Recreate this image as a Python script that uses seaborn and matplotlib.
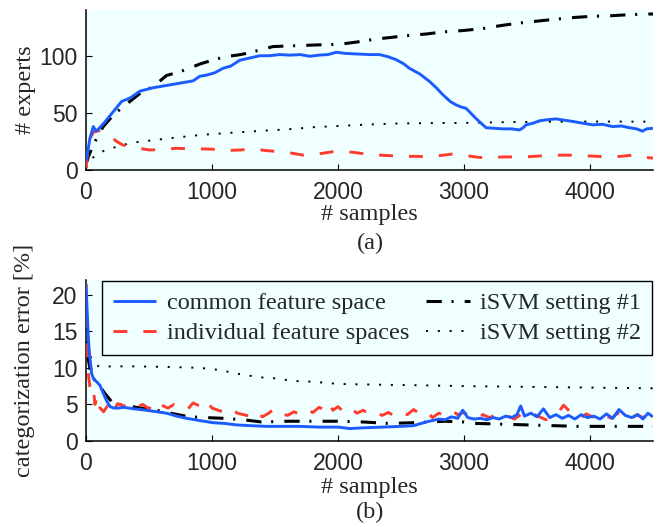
import matplotlib
matplotlib.use("Agg")
import matplotlib.pyplot as plt
import seaborn as sns
import pandas as pd

# ---------------- data: panel (a) number of experts ----------------
x_top_common = [0, 10, 30, 58, 80, 100, 150, 216, 283, 350, 428, 533, 640, 745, 850, 903, 956, 1020,
                1088, 1150, 1220, 1300, 1379, 1458, 1537, 1620, 1700, 1775, 1850, 1920, 1986, 2060,
                2150, 2250, 2330, 2400, 2462, 2520, 2567, 2650, 2726, 2780, 2831, 2890, 2937, 2980,
                3016, 3096, 3175, 3240, 3307, 3380, 3439, 3470, 3492, 3550, 3597, 3660, 3730, 3800,
                3862, 3940, 4020, 4100, 4178, 4250, 4311, 4370, 4416, 4450, 4500]
y_top_common = [8, 13, 27, 38, 34, 36, 42, 51, 60, 63, 69, 72, 74, 76, 78, 82, 83, 85,
                89, 91, 96, 98, 100, 100, 101, 100.5, 101, 99.5, 100.5, 101, 103, 102,
                101.5, 101, 101, 99, 96.5, 93, 89, 84, 77.5, 72, 66, 60, 57, 55,
                54, 45, 37, 36.5, 36, 36, 35, 37, 39.5, 41, 43, 44, 44.7, 43.5,
                42.5, 41, 39.5, 40, 38, 38.5, 37, 36, 34, 36, 36.5]

x_top_indiv = [0, 15, 32, 60, 85, 120, 164, 200, 243, 290, 349, 420, 507, 600, 719, 830, 956, 1040,
               1115, 1220, 1326, 1430, 1537, 1620, 1722, 1840, 1960, 2040, 2118, 2220, 2330, 2420,
               2514, 2600, 2700, 2800, 2911, 3020, 3122, 3210, 3307, 3410, 3518, 3640, 3756, 3850,
               3941, 4050, 4152, 4250, 4337, 4400, 4429, 4500]
y_top_indiv = [2, 18, 28, 33, 34, 34.5, 32, 29, 25, 22, 20.5, 19, 17.5, 18, 19, 18.5, 18.4, 18,
               17, 17.5, 18.4, 17, 16, 15, 13, 14, 16, 16, 15.5, 14, 13, 12.5,
               11.7, 12, 11.7, 12.5, 14, 12.5, 11, 11, 11.4, 11.5, 11.7, 12.5, 13, 13,
               12.6, 12, 11.4, 12, 13, 12.5, 11, 10.5]

x_top_svm1 = [0, 20, 58, 100, 137, 216, 296, 360, 428, 533, 639, 745, 820, 903, 1000, 1115, 1200,
              1273, 1380, 1484, 1600, 1722, 1850, 2013, 2150, 2303, 2420, 2541, 2700, 2831, 2990,
              3080, 3162, 3300, 3439, 3600, 3730, 3880, 4020, 4170, 4311, 4456, 4500]
y_top_svm1 = [5, 12, 22, 31, 38, 48, 55.6, 61, 67, 73, 82.7, 86, 89, 92.7, 96, 99.4, 100.5,
              102, 105, 108, 108.5, 109, 109.5, 110, 112, 114.6, 116, 117.5, 119, 120.8, 122,
              123, 124, 126.5, 128.6, 130.5, 132, 133.5, 134.5, 135, 135.9, 136.5, 136.5]

x_top_svm2 = [0, 20, 45, 80, 124, 204, 280, 349, 440, 533, 620, 719, 850, 983, 1167, 1350, 1511,
              1650, 1801, 2066, 2250, 2435, 2700, 2990, 3300, 3600, 4000, 4500]
y_top_svm2 = [2, 5, 10, 13, 16, 19, 21.5, 23.4, 25, 26, 27.3, 28.4, 30, 31.3, 32.7, 34, 35,
              36, 37.4, 38.9, 39.8, 40.6, 41, 41.2, 41.8, 42.2, 42.4, 42.3]

# ---------------- data: panel (b) categorization error [%] ----------------
x_bot_common = [0, 5, 10, 18, 25, 32, 45, 60, 71, 90, 111, 130, 150, 170, 190, 220, 260, 296, 380,
                481, 560, 639, 720, 798, 900, 1009, 1100, 1194, 1300, 1432, 1550, 1700, 1850, 2000,
                2092, 2200, 2350, 2500, 2600, 2700, 2750, 2800, 2850, 2900, 2950, 2990, 3030, 3080,
                3130, 3180, 3230, 3280, 3330, 3380, 3420, 3450, 3480, 3530, 3580, 3630, 3680, 3730,
                3780, 3830, 3880, 3930, 3980, 4030, 4080, 4130, 4180, 4230, 4280, 4330, 4380, 4420,
                4460, 4500]
y_bot_common = [21.4, 19.5, 17.4, 14.2, 12.5, 11.2, 9.2, 8.5, 8.3, 8.0, 7.6, 6.8, 6.0, 5.3, 4.7, 4.5,
                4.5, 4.6, 4.4, 4.2, 4.0, 3.8, 3.4, 3.1, 2.8, 2.5, 2.4, 2.2, 2.1, 2.0, 2.0, 2.0, 1.9,
                1.9, 1.7, 1.8, 1.9, 2.0, 2.1, 2.6, 2.8, 3.0, 2.9, 3.3, 3.1, 4.2, 3.2, 3.0,
                3.1, 2.9, 3.2, 3.0, 3.4, 3.2, 3.6, 4.8, 3.4, 3.8, 3.3, 4.4, 3.2, 3.6,
                3.1, 3.5, 3.0, 3.6, 3.2, 3.4, 3.0, 3.7, 3.1, 4.3, 3.5, 3.2, 3.6, 3.0,
                3.8, 3.3]

x_bot_indiv = [0, 5, 10, 15, 20, 30, 45, 60, 71, 90, 111, 140, 170, 190, 220, 250,
               300, 350, 400, 450, 500, 550, 600, 650, 700, 750, 800, 850, 900, 950, 1000,
               1050, 1100, 1150, 1200, 1250, 1300, 1350, 1400, 1450, 1500, 1550, 1600, 1650,
               1700, 1750, 1800, 1850, 1900, 1930, 1960, 2000, 2050, 2100, 2150, 2200, 2250,
               2300, 2350, 2400, 2450, 2500, 2550, 2600, 2650, 2700, 2750, 2800, 2850, 2900,
               2950, 3000, 3050, 3100, 3150, 3200, 3250, 3300, 3350, 3400, 3450, 3500, 3550,
               3600, 3650, 3700, 3750, 3790, 3830, 3870, 3920, 3970, 4020, 4070, 4120, 4170,
               4220, 4270, 4320, 4370, 4420, 4460, 4500]
y_bot_indiv = [21.5, 19, 15, 11, 9, 7.5, 6.5, 7, 5, 6.2, 4.5, 4.0, 4.8, 3.7, 4.0, 5.1,
               4.8, 5.2, 4.6, 5.0, 4.4, 5.5, 4.9, 4.5, 5.0, 4.6, 4.2, 5.2, 4.8, 5.6, 4.5,
               4.2, 3.9, 4.5, 3.8, 3.6, 3.4, 4.1, 3.3, 3.8, 4.5, 3.7, 3.5, 4.0,
               3.6, 4.3, 3.9, 4.6, 4.2, 5.1, 4.2, 4.7, 3.9, 4.5, 3.8, 4.2, 3.6,
               4.0, 3.5, 3.9, 3.4, 4.0, 3.6, 4.3, 3.7, 4.1, 3.2, 3.8, 3.5, 4.2,
               3.6, 3.9, 3.3, 3.1, 3.6, 3.2, 3.5, 3.8, 3.4, 3.0, 3.6, 3.2, 3.7,
               3.3, 2.9, 3.5, 3.9, 4.9, 4.2, 3.4, 3.1, 3.7, 3.3, 2.9, 3.5, 3.1,
               3.8, 3.3, 2.9, 3.6, 3.2, 3.7, 2.9]

x_bot_svm1 = [0, 5, 10, 20, 35, 50, 70, 97, 150, 216, 296, 400, 560, 700, 824, 950, 1088, 1250,
              1392, 1600, 1800, 2000, 2200, 2400, 2600, 2850, 3000, 3100, 3300, 3500, 3700, 3900,
              4100, 4300, 4500]
y_bot_svm1 = [17, 15, 13, 11, 9.5, 8.8, 8.3, 7.8, 6.5, 5.1, 4.9, 4.6, 4.2, 3.7, 3.3, 3.2, 3.1, 2.9,
              2.6, 2.7, 2.7, 2.7, 2.6, 2.4, 2.5, 2.7, 2.6, 2.4, 2.3, 2.2, 2.1, 2.0,
              2.0, 2.0, 2.0]

x_bot_svm2 = [0, 5, 10, 20, 30, 45, 70, 111, 200, 400, 690, 900, 1062, 1200, 1379, 1480, 1650,
              1800, 2000, 2300, 2700, 3000, 3500, 4000, 4500]
y_bot_svm2 = [13, 13, 12.6, 12.2, 11.8, 11.2, 10.5, 10.1, 10.2, 10.2, 10.1, 10.0, 9.7, 9.2, 8.7,
              8.6, 8.2, 8.1, 7.8, 7.7, 7.6, 7.5, 7.4, 7.3, 7.2]

series_labels = ["common feature space", "individual feature spaces",
                 "iSVM setting #1", "iSVM setting #2"]
x_ticks = [0, 1000, 2000, 3000, 4000]
y_ticks_top = [0, 50, 100]
y_ticks_bot = [0, 5, 10, 15, 20]

# ---------------- style ----------------
sns.set_theme(style="ticks")
plt.rcParams["font.family"] = ["Liberation Serif", "DejaVu Serif"]
plt.rcParams["lines.scale_dashes"] = False

BG = "#f0ffff"
BLUE = "#1c5cff"
RED = "#ff3b2e"
FS = 17.5
TICKFONT = {"family": ["Liberation Sans", "DejaVu Sans"], "size": 16.5}

styles = [
    dict(color=BLUE, lw=2.1, dashes=None, z=5),
    dict(color=RED, lw=2.1, dashes=[10, 11.5], z=4),
    dict(color="black", lw=2.2, dashes=[11, 7, 1.5, 8], z=3),
    dict(color="black", lw=1.4, dashes=[1.5, 7], z=2),
]

fig = plt.figure(figsize=(6.59, 5.27), dpi=100)
ax_top = fig.add_axes([86 / 659, 1 - 170 / 527, 567 / 659, 160 / 527])
ax_bot = fig.add_axes([86 / 659, 1 - 441 / 527, 567 / 659, 161 / 527])

top_data = [(x_top_common, y_top_common), (x_top_indiv, y_top_indiv),
            (x_top_svm1, y_top_svm1), (x_top_svm2, y_top_svm2)]
bot_data = [(x_bot_common, y_bot_common), (x_bot_indiv, y_bot_indiv),
            (x_bot_svm1, y_bot_svm1), (x_bot_svm2, y_bot_svm2)]


def draw(ax, data):
    handles = []
    for (xs, ys), st, lab in zip(data, styles, series_labels):
        df = pd.DataFrame({"x": xs, "y": ys})
        n_before = len(ax.lines)
        sns.lineplot(data=df, x="x", y="y", ax=ax, color=st["color"], linewidth=st["lw"],
                     estimator=None, sort=False, label=lab, legend=False)
        line = ax.lines[n_before]
        line.set_zorder(st["z"])
        line.set_solid_capstyle("butt")
        if st["dashes"] is not None:
            line.set_dashes(st["dashes"])
        handles.append(line)
    return handles


draw(ax_top, top_data)
handles = draw(ax_bot, bot_data)

for ax, yt, ylim, ylabel in [(ax_top, y_ticks_top, (0, 140), "# experts"),
                             (ax_bot, y_ticks_bot, (0, 22), "categorization error [%]")]:
    ax.set_facecolor(BG)
    ax.set_xlim(0, 4500)
    ax.set_ylim(*ylim)
    ax.set_xticks(x_ticks)
    ax.set_yticks(yt)
    ax.set_xticklabels([str(t) for t in x_ticks], fontdict=TICKFONT)
    ax.set_yticklabels([str(t) for t in yt], fontdict=TICKFONT)
    ax.tick_params(direction="in", length=4.5, width=0.8, color="black")
    ax.tick_params(axis="x", pad=8)
    ax.tick_params(axis="y", pad=6)
    for s in ["top", "right"]:
        ax.spines[s].set_visible(False)
    for s in ["left", "bottom"]:
        ax.spines[s].set_color("black")
        ax.spines[s].set_linewidth(1.1)
    ax.set_xlabel("# samples", fontsize=FS)
    ax.set_ylabel(ylabel, fontsize=FS)
    ax.xaxis.label.set_verticalalignment("center")
    ax.yaxis.label.set_verticalalignment("center")
    ax.yaxis.set_label_coords(-61 / 567, 0.5)

ax_top.xaxis.set_label_coords(0.5, -45 / 160)
ax_bot.xaxis.set_label_coords(0.5, -46 / 161)

leg = ax_bot.legend(handles=handles, labels=series_labels, ncol=2, loc="upper right",
                    bbox_to_anchor=(1.0, 1.0), borderaxespad=0.05, fontsize=FS,
                    frameon=True, fancybox=False, framealpha=1.0, edgecolor="black",
                    facecolor=BG, handlelength=1.77, handletextpad=0.42,
                    columnspacing=0.72, labelspacing=0.33, borderpad=0.45)
leg.get_frame().set_linewidth(1.0)
leg.set_zorder(10)

fig.text(370 / 659, 1 - 243 / 527, "(a)", ha="center", va="center", fontsize=FS)
fig.text(370 / 659, 1 - 512 / 527, "(b)", ha="center", va="center", fontsize=FS)

fig.savefig("out.png", dpi=100, facecolor="white")
